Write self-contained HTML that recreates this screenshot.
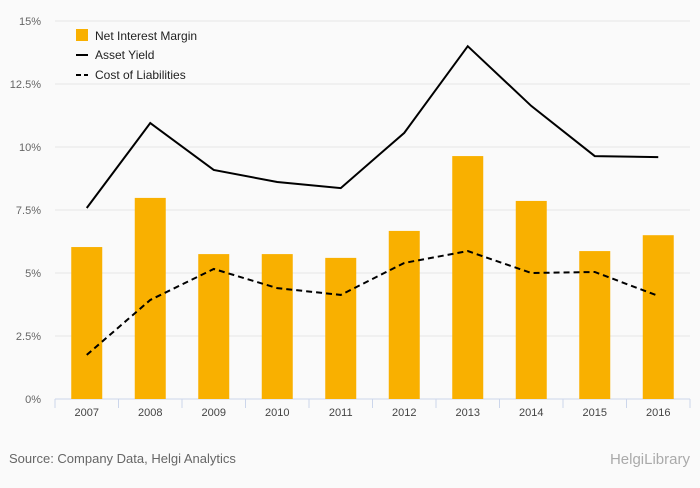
<!DOCTYPE html>
<html><head><meta charset="utf-8">
<style>
body{margin:0;background:#fafafa;font-family:"Liberation Sans",sans-serif;}
svg text{font-family:"Liberation Sans",sans-serif;}
</style></head>
<body>
<svg id="chart" width="700" height="483">
  <rect x="0" y="0" width="700" height="483" fill="#fafafa"/>
  <g id="grid"></g>
  <g id="bars"></g>
  <g id="lines"></g>
  <g id="axes"></g>
  <g>
    <rect x="76" y="29" width="12" height="12" fill="#f9b000"/>
    <text x="95" y="40" font-size="12" fill="#222">Net Interest Margin</text>
    <line x1="76" y1="55" x2="88" y2="55" stroke="#000" stroke-width="2"/>
    <text x="95" y="59" font-size="12" fill="#222">Asset Yield</text>
    <line x1="76" y1="75" x2="88" y2="75" stroke="#000" stroke-width="2" stroke-dasharray="5,3"/>
    <text x="95" y="79" font-size="12" fill="#222">Cost of Liabilities</text>
  </g>
  <text x="9" y="463" font-size="13" fill="#666">Source: Company Data, Helgi Analytics</text>
  <text x="690" y="464" font-size="15" fill="#aaa" text-anchor="end">HelgiLibrary</text>
</svg>
<script>
const categories=["2007","2008","2009","2010","2011","2012","2013","2014","2015","2016"];
const nim=[6.03,7.98,5.75,5.75,5.6,6.67,9.64,7.86,5.87,6.5];
const assetYield=[7.58,10.95,9.09,8.61,8.37,10.56,14.0,11.63,9.64,9.6];
const costLiab=[1.75,3.93,5.16,4.4,4.13,5.4,5.87,5.0,5.04,4.09];
const yTicks=[0,2.5,5,7.5,10,12.5,15];
const yTickLabels=["0%","2.5%","5%","7.5%","10%","12.5%","15%"];

const NS="http://www.w3.org/2000/svg";
const x0=55,x1=690,yBase=399,yTop=21,yMax=15;
const step=(x1-x0)/categories.length;
const xc=i=>x0+step*(i+0.5);
const y=v=>yBase-(v/yMax)*(yBase-yTop);
function mk(tag,attrs,parent){const e=document.createElementNS(NS,tag);for(const k in attrs)e.setAttribute(k,attrs[k]);parent.appendChild(e);return e;}
const grid=document.getElementById('grid'),bars=document.getElementById('bars'),lines=document.getElementById('lines'),axes=document.getElementById('axes');
yTicks.forEach((t,i)=>{
  const l=mk('line',{x1:x0,x2:x1,y1:y(t),y2:y(t),stroke:i==0?'#ccd6eb':'#e6e6e6'},grid);
  
  
  const tx=mk('text',{x:41,y:y(t)+4,'font-size':11,fill:'#666','text-anchor':'end'},axes);
  tx.textContent=yTickLabels[i];
  
  
});
categories.forEach((c,i)=>{
  const b=mk('rect',{x:xc(i)-15.5,y:y(nim[i]),width:31,height:yBase-y(nim[i]),fill:'#f9b000'},bars);
  
  
  const tk=mk('line',{x1:x0+step*i,x2:x0+step*i,y1:yBase,y2:yBase+9,stroke:'#ccd6eb'},axes);
  
  
  const tx=mk('text',{x:xc(i),y:416,'font-size':11,fill:'#444','text-anchor':'middle'},axes);
  tx.textContent=c;
  
  
});
const tkEnd=mk('line',{x1:x1,x2:x1,y1:yBase,y2:yBase+9,stroke:'#ccd6eb'},axes);


const p1=mk('polyline',{points:assetYield.map((v,i)=>xc(i)+','+y(v)).join(' '),fill:'none',stroke:'#000','stroke-width':2},lines);


const p2=mk('polyline',{points:costLiab.map((v,i)=>xc(i)+','+y(v)).join(' '),fill:'none',stroke:'#000','stroke-width':2,'stroke-dasharray':'6,4'},lines);


</script>
</body></html>
